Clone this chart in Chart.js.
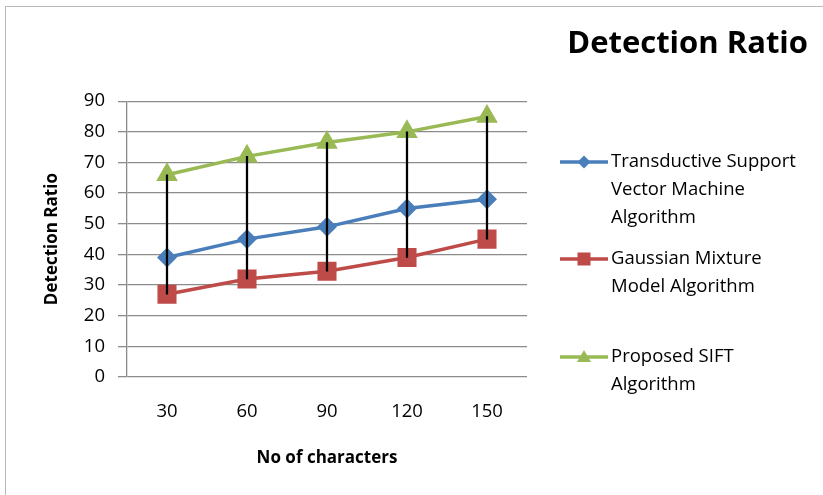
<!DOCTYPE html>
<html>
<head>
<meta charset="utf-8">
<script src="https://cdn.jsdelivr.net/npm/chart.js@4/dist/chart.umd.min.js"></script>
<style>
  html, body { margin: 0; padding: 0; background: #fff; }
  #wrap { position: relative; width: 823px; height: 495px; }
  #frame { position: absolute; left: 5px; top: 6px; right: -10px; bottom: -10px;
           border-left: 1.5px solid #b8b8b8; border-top: 1.5px solid #b8b8b8; pointer-events: none; }
</style>
</head>
<body>
<div id="wrap">
  <canvas id="c" width="823" height="495"></canvas>
  <div id="frame"></div>
</div>
<script>
const categories = ['30', '60', '90', '120', '150'];
const tsvm = [39, 45, 49, 55, 58];
const gmm = [27, 32, 34.5, 39, 45];
const sift = [66, 72, 76.5, 80, 85];
const seriesNames = [
  ['Transductive Support', 'Vector Machine', 'Algorithm'],
  ['Gaussian Mixture', 'Model Algorithm'],
  ['Proposed SIFT', 'Algorithm']
];
const yTicks = [0, 10, 20, 30, 40, 50, 60, 70, 80, 90];

const FONT = '"Open Sans", Lato, sans-serif';
const colors = ['#4A7EBB', '#BE4B48', '#98B954'];
const styles = ['rectRot', 'rect', 'triangle'];
const radii = [7.5, 11, 9];

const hiLo = categories.map((c, i) => {
  const vals = [tsvm[i], gmm[i], sift[i]];
  return [Math.min(...vals), Math.max(...vals)];
});

const legendY = [162, 259, 357];

const legendPlugin = {
  id: 'sideLegend',
  afterDraw(chart) {
    const ctx = chart.ctx;
    ctx.save();
    seriesNames.forEach((lines, k) => {
      const y = legendY[k];
      ctx.strokeStyle = colors[k];
      ctx.lineWidth = 3.5;
      ctx.beginPath();
      ctx.moveTo(560, y);
      ctx.lineTo(608, y);
      ctx.stroke();
      ctx.fillStyle = colors[k];
      const cx = 584;
      if (k === 0) {
        ctx.beginPath();
        ctx.moveTo(cx, y - 6.5); ctx.lineTo(cx + 6.5, y); ctx.lineTo(cx, y + 6.5); ctx.lineTo(cx - 6.5, y);
        ctx.closePath(); ctx.fill();
      } else if (k === 1) {
        ctx.fillRect(cx - 6.5, y - 6.5, 13, 13);
      } else {
        ctx.beginPath();
        ctx.moveTo(cx, y - 7); ctx.lineTo(cx + 7, y + 5); ctx.lineTo(cx - 7, y + 5);
        ctx.closePath(); ctx.fill();
      }
      ctx.fillStyle = '#000';
      ctx.font = '18.5px ' + FONT;
      ctx.textBaseline = 'middle';
      ctx.textAlign = 'left';
      lines.forEach((t, j) => ctx.fillText(t, 611, y + j * 28));
    });
    ctx.restore();
  }
};

new Chart(document.getElementById('c'), {
  data: {
    labels: categories,
    datasets: [
      { type: 'bar', label: 'High-Low', data: hiLo, backgroundColor: '#000', barThickness: 1.6,
        order: 0, borderSkipped: false },
      { type: 'line', label: seriesNames[0].join(' '), data: tsvm, borderColor: colors[0], backgroundColor: colors[0],
        borderWidth: 3.5, pointStyle: styles[0], pointRadius: radii[0], pointHoverRadius: radii[0], tension: 0, order: 1 },
      { type: 'line', label: seriesNames[1].join(' '), data: gmm, borderColor: colors[1], backgroundColor: colors[1],
        borderWidth: 3.5, pointStyle: styles[1], pointRadius: radii[1], pointHoverRadius: radii[1], tension: 0, order: 1 },
      { type: 'line', label: seriesNames[2].join(' '), data: sift, borderColor: colors[2], backgroundColor: colors[2],
        borderWidth: 3.5, pointStyle: styles[2], pointRadius: radii[2], pointHoverRadius: radii[2], tension: 0, order: 1 }
    ]
  },
  options: {
    responsive: false,
    animation: false,
    events: [],
    layout: { padding: { left: 0, right: 15, top: 0, bottom: 0 } },
    plugins: {
      legend: { display: false },
      tooltip: { enabled: false },
      title: {
        display: true,
        text: 'Detection Ratio',
        align: 'end',
        color: '#000',
        font: { family: FONT, size: 31, weight: 'bold' },
        padding: { top: 26, bottom: 38 }
      }
    },
    scales: {
      x: {
        type: 'category',
        offset: true,
        grid: { display: false, drawTicks: false },
        border: { display: false },
        ticks: { color: '#000', font: { family: FONT, size: 18.5 }, padding: 24 },
        title: { display: true, text: 'No of characters', color: '#000',
                 font: { family: FONT, size: 17, weight: 'bold' }, padding: { top: 0, bottom: 27 } },
        afterFit(s) { s.height = 118; }
      },
      y: {
        min: 0, max: 90,
        afterBuildTicks(s) { s.ticks = yTicks.map(v => ({ value: v })); },
        grid: { color: '#8c8c8c', lineWidth: 1.3, tickLength: 9, tickColor: '#8c8c8c' },
        border: { display: true, color: '#8c8c8c', width: 1.3 },
        ticks: { color: '#000', font: { family: FONT, size: 18.5 }, padding: 13 },
        title: { display: true, text: 'Detection Ratio', color: '#000',
                 font: { family: FONT, size: 17, weight: 'bold' }, padding: { top: 42, bottom: 0 } },
        afterFit(s) { s.width = 127; }
      },
      side: {
        position: 'right',
        display: true,
        grid: { display: false },
        border: { display: false },
        ticks: { display: false },
        afterFit(s) { s.width = 281; }
      }
    }
  },
  plugins: [legendPlugin]
});
</script>
</body>
</html>
